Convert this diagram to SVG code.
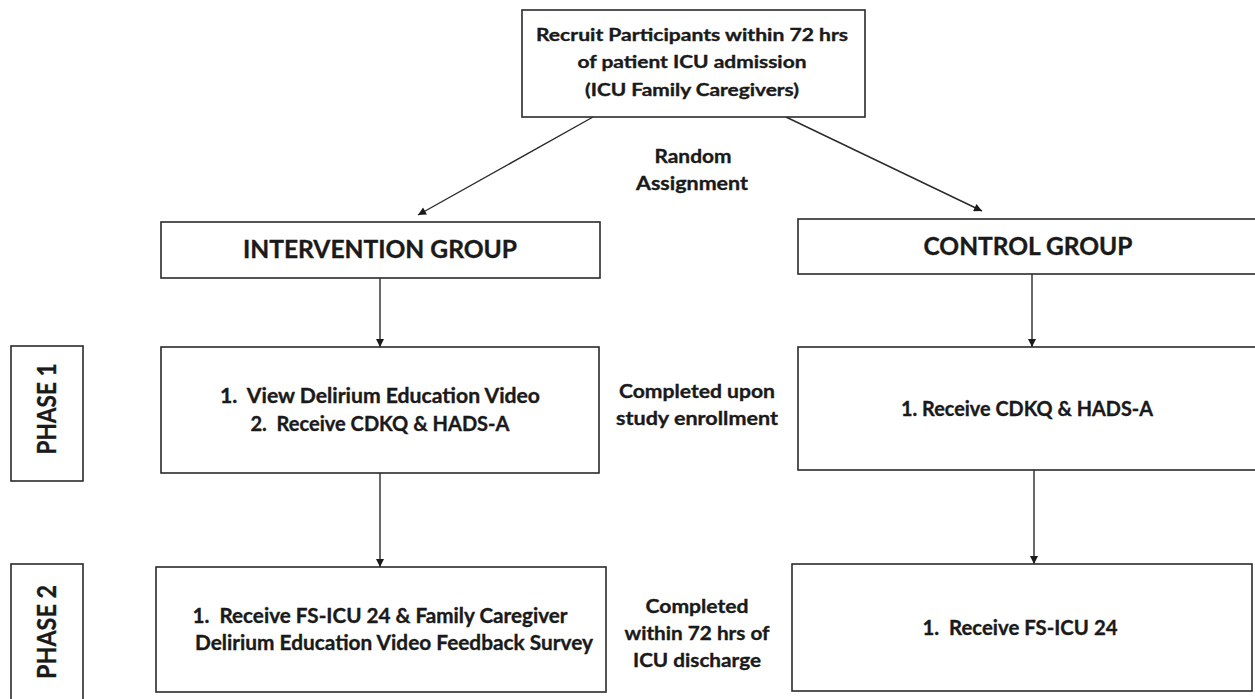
<svg xmlns="http://www.w3.org/2000/svg" width="1255" height="699" viewBox="0 0 1255 699">
<style>
.box{fill:#fff;stroke:#2a2a2a;stroke-width:1.6}
.t{font-family:Lato,"Open Sans","Liberation Sans",sans-serif;font-weight:bold;fill:#1a1a1a;stroke:#1a1a1a;stroke-width:0.35;text-anchor:middle}
.s16{font-size:16.5px}
.s19{font-size:19px}
.s20{font-size:20px}
.s24{font-size:24px}
.s26{font-size:26px}
.c{stroke:#2a2a2a;stroke-width:1.4;fill:none;marker-end:url(#ah)}
</style>
<defs>
<marker id="ah" viewBox="0 0 10 10" refX="10" refY="5" markerWidth="9" markerHeight="8" markerUnits="userSpaceOnUse" orient="auto">
<path d="M0,0 L10,5 L0,10 z" fill="#1a1a1a"/>
</marker>
</defs>
<rect width="1255" height="699" fill="#fff"/>

<g id="connectors">
<line class="c" x1="593" y1="117" x2="418" y2="215"/>
<line class="c" x1="786" y1="117" x2="982" y2="211"/>
<line class="c" x1="380" y1="278" x2="380" y2="347"/>
<line class="c" x1="1032" y1="274" x2="1032" y2="347"/>
<line class="c" x1="380" y1="473" x2="380" y2="567"/>
<line class="c" x1="1034" y1="470" x2="1034" y2="564"/>
</g>

<g id="recruit">
<rect class="box" x="522" y="10" width="343" height="107"/>
<text class="t s16" x="692" y="41" textLength="312" lengthAdjust="spacingAndGlyphs">Recruit Participants within 72 hrs</text>
<text class="t s16" x="692" y="68" textLength="229" lengthAdjust="spacingAndGlyphs">of patient ICU admission</text>
<text class="t s16" x="692" y="96" textLength="214" lengthAdjust="spacingAndGlyphs">(ICU Family Caregivers)</text>
</g>

<g id="random-label">
<text class="t s19" x="693" y="163" textLength="77" lengthAdjust="spacingAndGlyphs">Random</text>
<text class="t s19" x="692" y="190" textLength="112" lengthAdjust="spacingAndGlyphs">Assignment</text>
</g>

<g id="intervention-group">
<rect class="box" x="161" y="222" width="439" height="56"/>
<text class="t s24" x="380" y="258" textLength="274" lengthAdjust="spacingAndGlyphs">INTERVENTION GROUP</text>
</g>

<g id="control-group">
<rect class="box" x="798" y="219" width="462" height="55"/>
<text class="t s24" x="1028" y="255" textLength="209" lengthAdjust="spacingAndGlyphs">CONTROL GROUP</text>
</g>

<g id="phase1-label">
<rect class="box" x="11" y="346" width="72" height="135"/>
<text class="t s26" transform="translate(56,409) rotate(-90)" x="0" y="0" textLength="91" lengthAdjust="spacingAndGlyphs">PHASE 1</text>
</g>

<g id="intervention-phase1">
<rect class="box" x="161" y="347" width="438" height="126"/>
<text class="t s20" x="380" y="403" textLength="320" lengthAdjust="spacingAndGlyphs">1.&#160; View Delirium Education Video</text>
<text class="t s20" x="380" y="431" textLength="259" lengthAdjust="spacingAndGlyphs">2.&#160; Receive CDKQ &amp; HADS-A</text>
</g>

<g id="phase1-note">
<text class="t s19" x="697" y="398" textLength="156" lengthAdjust="spacingAndGlyphs">Completed upon</text>
<text class="t s19" x="697" y="425" textLength="162" lengthAdjust="spacingAndGlyphs">study enrollment</text>
</g>

<g id="control-phase1">
<rect class="box" x="798" y="347" width="462" height="123"/>
<text class="t s20" x="1027" y="416" textLength="252" lengthAdjust="spacingAndGlyphs">1. Receive CDKQ &amp; HADS-A</text>
</g>

<g id="phase2-label">
<rect class="box" x="11" y="564" width="72" height="140"/>
<text class="t s26" transform="translate(56,632) rotate(-90)" x="0" y="0" textLength="94" lengthAdjust="spacingAndGlyphs">PHASE 2</text>
</g>

<g id="intervention-phase2">
<rect class="box" x="156" y="567" width="450" height="125"/>
<text class="t s20" x="380" y="623" textLength="375" lengthAdjust="spacingAndGlyphs">1.&#160; Receive FS-ICU 24 &amp; Family Caregiver</text>
<text class="t s20" x="394" y="650" textLength="398" lengthAdjust="spacingAndGlyphs">Delirium Education Video Feedback Survey</text>
</g>

<g id="phase2-note">
<text class="t s19" x="697" y="613" textLength="103" lengthAdjust="spacingAndGlyphs">Completed</text>
<text class="t s19" x="697" y="640" textLength="145" lengthAdjust="spacingAndGlyphs">within 72 hrs of</text>
<text class="t s19" x="697" y="667" textLength="128" lengthAdjust="spacingAndGlyphs">ICU discharge</text>
</g>

<g id="control-phase2">
<rect class="box" x="792" y="564" width="460" height="127"/>
<text class="t s20" x="1020" y="635" textLength="195" lengthAdjust="spacingAndGlyphs">1.&#160; Receive FS-ICU 24</text>
</g>
</svg>
